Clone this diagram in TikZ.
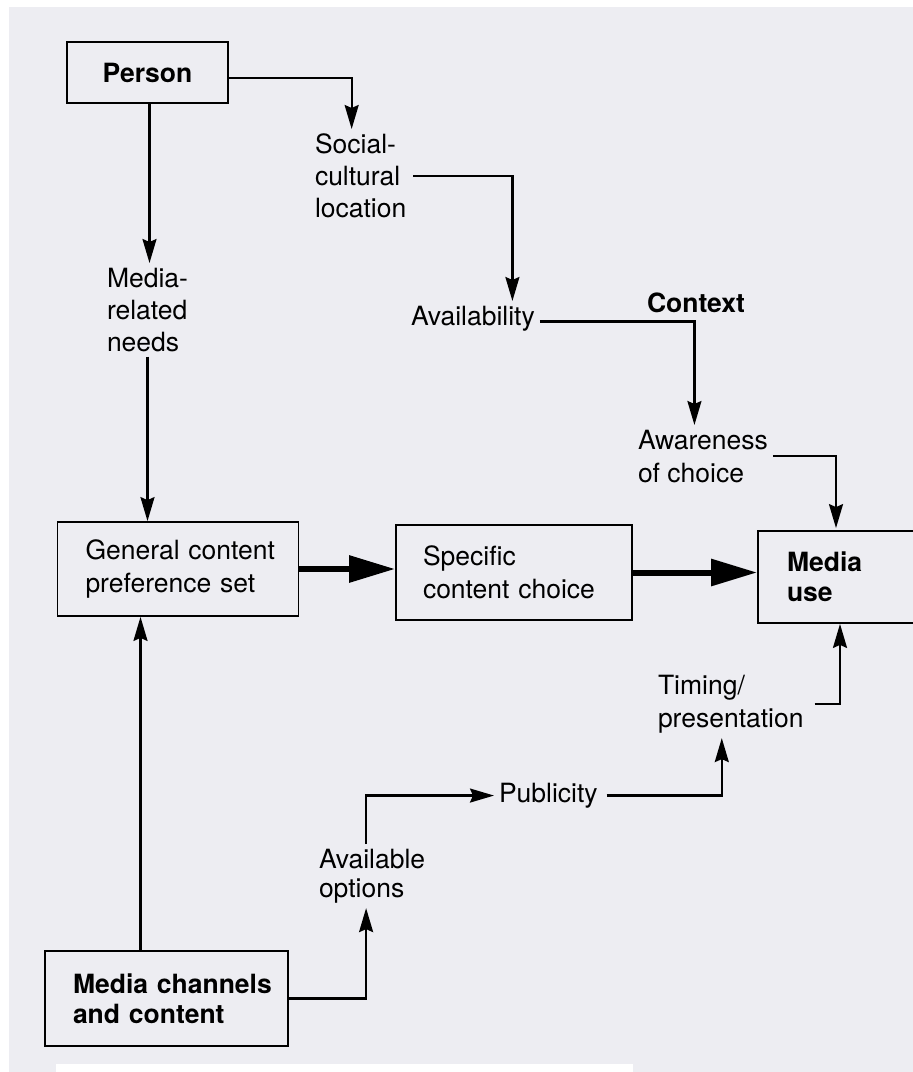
\documentclass[tikz,border=0pt]{standalone}
\usepackage{fontspec}
\setmainfont{TeX Gyre Heros}
\usetikzlibrary{arrows.meta}
\definecolor{paper}{RGB}{237,237,242}
\newcommand{\fs}[1]{\fontsize{26.5}{#1}\selectfont}
\begin{document}
\begin{tikzpicture}[x=1pt,y=-1pt,
  lbl/.style={anchor=north west, inner sep=0pt, outer sep=5pt, align=left,
              font=\fs{32}},
  box/.style={draw, line width=1.8pt, inner ysep=0pt, align=left, font=\fs{32}},
  link/.style={line width=2.2pt, -{Stealth[length=24pt,width=14pt,inset=3pt]}},
  flow/.style={line width=6pt, -{Triangle[length=46pt,width=26pt]}}]

% paper
\useasboundingbox (0,0) rectangle (913,1072);
\fill[white] (0,0) rectangle (913,1072);
\fill[paper] (9,7) rectangle (913,1064);
\fill[paper] (9,1064) rectangle (56,1072);
\fill[paper] (633,1064) rectangle (913,1072);

% boxes
\node[box, font=\fs{32}\bfseries, align=center,
      minimum width=161pt, minimum height=61pt] (person) at (147.5,72.5) {Person};
\node[box, inner xsep=28pt, text width=185pt, minimum height=94pt,
      font=\fs{33}] (general) at (178,569)
      {\mbox{General content}\\\mbox{preference set}};
\node[box, inner xsep=27pt, text width=182pt, minimum height=95pt,
      font=\fs{33}] (specific) at (514,572.5) {Specific\\\mbox{content choice}};
\node[box, inner xsep=29pt, text width=142pt, minimum height=92pt,
      font=\fs{30}\bfseries] (mediause) at (858,577) {Media\\use};
\node[box, inner xsep=28pt, text width=187pt, minimum height=95pt,
      font=\fs{30}\bfseries] (channels) at (166.5,998.5)
      {\mbox{Media channels}\\\mbox{and content}};

% free-standing labels
\node[lbl] (social) at (310,129) {Social-\\cultural\\location};
\node[lbl] (needs) at (102,263) {Media-\\related\\needs};
\node[lbl] (avail) at (406,301) {Availability};
\node[lbl, font=\fs{32}\bfseries] (context) at (642,288) {Context};
\node[lbl, font=\fs{33}] (aware) at (633,425) {Awareness\\of choice};
\node[lbl, font=\fs{33}] (timing) at (653,670) {Timing/\\presentation};
\node[lbl] (publicity) at (494,778) {Publicity};
\node[lbl, font=\fs{29}] (options) at (314,844) {Available\\options};

% bend and anchor points on the connectors
\coordinate (pOut) at ([yshift=-5.5pt]person.east);
\coordinate (sDrop) at ([xshift=-9pt]social.north);
\coordinate (sOut) at ([xshift=2pt]social.east);
\coordinate (aDrop) at ([xshift=39.5pt]avail.north);
\coordinate (vOut) at ([yshift=-3pt]avail.east);
\coordinate (wDrop) at ([xshift=-8.5pt]aware.north);
\coordinate (uIn) at ([xshift=-22pt]mediause.north);
\coordinate (cUp) at ([xshift=-26pt]channels.north);
\coordinate (pubOut) at ([xshift=4pt]publicity.east);
\coordinate (tOut) at ([xshift=6pt]timing.east);
\coordinate (uBelow) at ([xshift=-18pt]mediause.south);
\coordinate (oDrop) at ([xshift=-6pt]options.south);
\coordinate (oUp) at ([xshift=-6pt]options.north);
\coordinate (tDrop) at ([xshift=-9pt]timing.south);

% person branch
\draw[link] ([xshift=2pt]person.south) -- ([xshift=2pt]person.south |- needs.north);
\draw[link] (pOut) -| (sDrop);
\draw[link] (sOut) -| (aDrop);
\draw[link] (vOut) -| (wDrop);
\draw[link, shorten >=2pt] (aware.east) -| (uIn);
\draw[link] (needs.south -| person.south) -- (general.north -| person.south);

% main flow
\draw[flow] (general.east) -- (general.east -| specific.west);
\draw[flow] (specific.east) -- (specific.east -| mediause.west);

% media channels branch
\draw[link] (cUp) -- (cUp |- general.south);
\draw[link] (channels.east) -| (oDrop);
\draw[link] (oUp) |- (publicity.west);
\draw[link] (pubOut) -| (tDrop);
\draw[link] (tOut) -| (uBelow);

\end{tikzpicture}
\end{document}
